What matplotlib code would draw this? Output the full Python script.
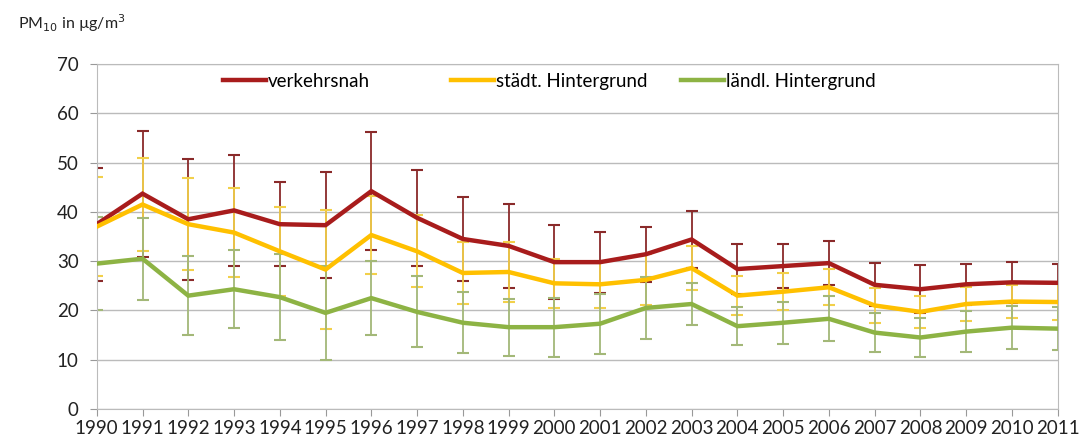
import numpy as np
import matplotlib
matplotlib.use("Agg")
import matplotlib.pyplot as plt
from matplotlib.legend import Legend

years = list(range(1990, 2012))

# verkehrsnah
red = [37.5, 43.7, 38.5, 40.3, 37.5, 37.3, 44.2, 38.8, 34.5, 33.1, 29.8, 29.8,
       31.4, 34.4, 28.4, 29.0, 29.6, 25.2, 24.3, 25.3, 25.7, 25.6]
red_err = [11.5, 12.8, 12.3, 11.2, 8.5, 10.7, 12.0, 9.7, 8.6, 8.5, 7.5, 6.2,
           5.6, 5.8, 5.0, 4.4, 4.4, 4.4, 4.9, 4.2, 4.1, 3.8]

# städt. Hintergrund
yellow = [37.0, 41.5, 37.5, 35.8, 32.0, 28.3, 35.3, 32.0, 27.6, 27.8, 25.5, 25.3,
          26.2, 28.6, 23.0, 23.8, 24.7, 21.0, 19.7, 21.3, 21.8, 21.7]
yellow_err = [10.0, 9.5, 9.3, 9.0, 9.0, 12.0, 8.0, 7.3, 6.2, 6.0, 5.0, 4.8,
              5.2, 4.5, 4.0, 3.8, 3.7, 3.6, 3.3, 3.5, 3.3, 3.7]

# ländl. Hintergrund
green = [29.5, 30.5, 23.0, 24.3, 22.7, 19.5, 22.5, 19.7, 17.5, 16.6, 16.6, 17.3,
         20.5, 21.3, 16.8, 17.5, 18.3, 15.5, 14.5, 15.7, 16.5, 16.3]
green_err = [9.5, 8.3, 8.0, 7.9, 8.7, 9.5, 7.5, 7.2, 6.2, 5.8, 6.0, 6.1,
             6.3, 4.3, 3.8, 4.3, 4.6, 4.0, 4.0, 4.2, 4.3, 4.3]

labels = ["verkehrsnah", "städt. Hintergrund", "ländl. Hintergrund"]

plt.rcParams['font.family'] = ['Lato', 'DejaVu Sans']

fig = plt.figure(figsize=(10.87, 4.45), dpi=100)
ax = fig.add_axes([0.089, 0.081, 0.884, 0.775])

series = [
    (red, red_err, '#A81C1C', '#8A2A2A'),
    (yellow, yellow_err, '#FFC000', '#F2D04A'),
    (green, green_err, '#8DB344', '#A3B878'),
]

handles = []
for (vals, err, col, ecol), lab in zip(series, labels):
    ax.errorbar(years, vals, yerr=err, fmt='none', ecolor=ecol,
                elinewidth=1.3, capsize=4, capthick=1.5, zorder=2)
    ln, = ax.plot(years, vals, color=col, lw=3.2, label=lab, zorder=3,
                  solid_joinstyle='miter')
    handles.append(ln)

ax.set_xlim(1990, 2011)
ax.set_ylim(0, 70)
ax.set_xticks(years)
ax.set_xticklabels([str(y) for y in years])
ax.set_yticks(range(0, 71, 10))
ax.grid(axis='y', color='#BBBBBB', lw=1)
ax.set_axisbelow(True)
for s in ax.spines.values():
    s.set_color('#BBBBBB')
ax.tick_params(axis='both', colors='#999999', labelcolor='#222222',
               labelsize=13.5, length=5)
ax.tick_params(axis='x', pad=3)
ax.tick_params(axis='y', pad=8)

# three separate legends, evenly spaced like the original
leg_x = [0.131, 0.369, 0.608]
for h, lab, lx in zip(handles, labels, leg_x):
    leg = Legend(ax, [h], [lab], loc='center left', bbox_to_anchor=(lx, 0.95),
                 frameon=False, fontsize=13.5, handlelength=2.3,
                 handletextpad=0.1, borderpad=0, borderaxespad=0)
    ax.add_artist(leg)

fig.text(0.017, 0.935, r'PM$_{10}$ in µg/m$^3$', fontsize=11.5, color='#222222')

fig.savefig('out.png', dpi=100, facecolor='white')
